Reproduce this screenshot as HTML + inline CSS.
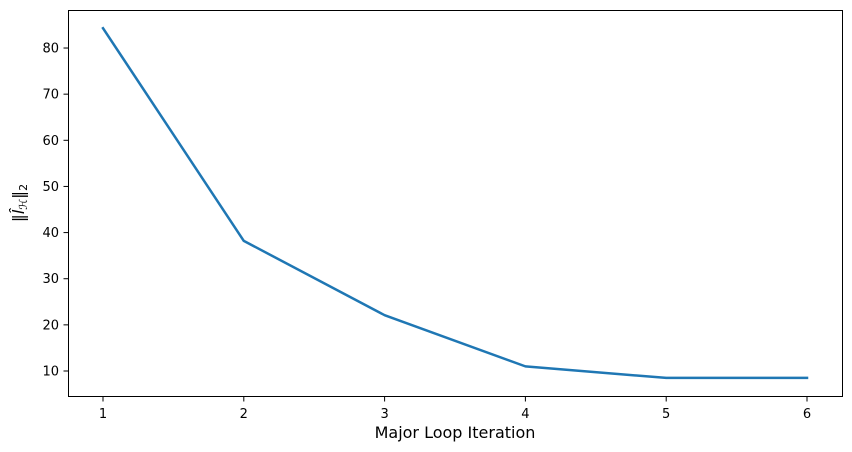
<!DOCTYPE html>
<html><head><meta charset="utf-8"><style>
html,body{margin:0;padding:0;background:#fff;}
svg{display:block;font-family:"DejaVu Sans","Liberation Sans",sans-serif;}
</style></head><body>
<svg id="chart" width="852" height="452">
<rect x="0" y="0" width="852" height="452" fill="#fff"/>
<g id="ticks"></g>
<path id="line" fill="none" stroke="#1f77b4" stroke-width="2.5" stroke-linejoin="round" stroke-linecap="square"/>
<rect x="68.5" y="10.5" width="774" height="386" fill="none" stroke="#000" stroke-width="1"/>
<text x="455" y="438" font-size="16" text-anchor="middle">Major Loop Iteration</text>
<text transform="translate(24,203) rotate(-90)" font-size="16" text-anchor="middle">‖<tspan font-style="italic">l̂</tspan><tspan font-size="11" font-style="italic" dy="3">ℋ</tspan><tspan dy="-3">‖</tspan><tspan font-size="11" dy="3">2</tspan></text>
</svg>
<script>
const iterations = [1, 2, 3, 4, 5, 6];
const normValues = [84.3, 38.2, 22.1, 11.0, 8.5, 8.5];
const xTicks = [1, 2, 3, 4, 5, 6];
const yTicks = [10, 20, 30, 40, 50, 60, 70, 80];

function xs(v){ return 103 + (v - 1) * 140.8; }
function ys(v){ return 371 - (v - 10) * 4.614; }

const NS = "http://www.w3.org/2000/svg";
const g = document.getElementById("ticks");
function mk(tag, attrs){ const e = document.createElementNS(NS, tag); for (const k in attrs) e.setAttribute(k, attrs[k]); return e; }

xTicks.forEach(t => {
  const x = xs(t);
  const l = mk("line", {x1:x, x2:x, y1:396.5, y2:401.5, stroke:"#000"});
  
  
  g.appendChild(l);
  const tx = mk("text", {x:x, y:418, "font-size":13, "text-anchor":"middle"});
  tx.textContent = t;
  
  
  g.appendChild(tx);
});
yTicks.forEach(t => {
  const y = ys(t);
  const l = mk("line", {x1:63.5, x2:68.5, y1:y, y2:y, stroke:"#000"});
  
  
  g.appendChild(l);
  const tx = mk("text", {x:59, y:y + 4.5, "font-size":13, "text-anchor":"end"});
  tx.textContent = t;
  
  
  g.appendChild(tx);
});
document.getElementById("line").setAttribute("d",
  iterations.map((v, i) => (i ? "L" : "M") + xs(v) + "," + ys(normValues[i])).join(" "));
</script>
</body></html>
